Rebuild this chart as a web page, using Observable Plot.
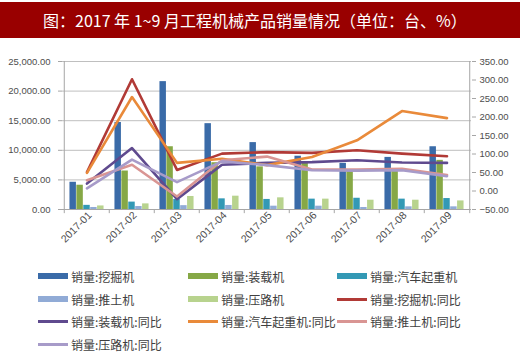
<!DOCTYPE html>
<html><head><meta charset="utf-8">
<script src="https://cdn.jsdelivr.net/npm/d3@7"></script>
<script src="https://cdn.jsdelivr.net/npm/@observablehq/plot@0.6"></script>
<style>
html,body{margin:0;padding:0;background:#fff;}
body{width:520px;height:355px;overflow:hidden;font-family:"Noto Sans CJK SC",sans-serif;}
#title{margin-top:2px;height:36px;background:#990000;color:#fff;font-size:16px;line-height:36px;padding-left:43px;white-space:nowrap;font-family:"Noto Sans CJK SC",sans-serif;}
#chart{height:227px;}
#legend{display:grid;grid-template-columns:150px 149px 150px;grid-auto-rows:22.7px;margin-left:38px;}
.item{display:flex;align-items:center;font-size:12px;color:#404040;white-space:nowrap;}
.sw{width:30px;margin-right:3px;flex:none;}
</style>
</head><body>
<div id="title">图：2017 年 1~9 月工程机械产品销量情况（单位：台、%）</div>
<div id="chart"></div>
<div id="legend"></div>
<script>
const months = ["2017-01","2017-02","2017-03","2017-04","2017-05","2017-06","2017-07","2017-08","2017-09"];
// sales (units), left axis
const excavator  = [4600, 14700, 21600, 14500, 11300, 9000, 7800, 8800, 10600];
const loader     = [4100, 6500, 10600, 7900, 7200, 8000, 6700, 6600, 8300];
const truckCrane = [700, 1250, 1700, 1800, 1700, 1750, 1900, 1750, 1850];
const bulldozer  = [340, 500, 650, 680, 560, 560, 340, 450, 450];
const roller     = [600, 950, 2200, 2250, 1970, 1750, 1570, 1570, 1450];
// YoY (%), right axis
const excavatorYoY  = [51, 302, 57, 101, 105, 103, 110, 101, 94];
const loaderYoY     = [20, 116, -22, 71, 76, 78, 83, 77, 76];
const truckCraneYoY = [49, 254, 76, 87, 70, 92, 137, 216, 197];
const bulldozerYoY  = [29, 71, -15, 83, 93, 58, 58, 60, 43];
const rollerYoY     = [7, 85, 24, 80, 70, 56, 55, 56, 40];
const leftTicks  = [0, 5000, 10000, 15000, 20000, 25000];
const rightTicks = [-50, 0, 50, 100, 150, 200, 250, 300, 350];

const barSeries = [
  {name:"销量:挖掘机", values:excavator, color:"#3a6ba8"},
  {name:"销量:装载机", values:loader, color:"#86a846"},
  {name:"销量:汽车起重机", values:truckCrane, color:"#3399b5"},
  {name:"销量:推土机", values:bulldozer, color:"#91abd6"},
  {name:"销量:压路机", values:roller, color:"#b8d38e"}
];
const lineSeries = [
  {name:"销量:挖掘机:同比", values:excavatorYoY, color:"#b13a36"},
  {name:"销量:装载机:同比", values:loaderYoY, color:"#5f4a8e"},
  {name:"销量:汽车起重机:同比", values:truckCraneYoY, color:"#e98a3a"},
  {name:"销量:推土机:同比", values:bulldozerYoY, color:"#d99593"},
  {name:"销量:压路机:同比", values:rollerYoY, color:"#a79bc9"}
];

const W = 520, H = 227, mL = 62, mR = 49, mT = 23, mB = 56;
const bw = (W - mL - mR) / months.length;
const groupW = bw * 0.76, barW = groupW / barSeries.length, pad = (bw - groupW) / 2;
const leftMax = 25000, rMin = -50, rMax = 350;
const toLeft = v => (v - rMin) / (rMax - rMin) * leftMax;
const fromLeft = d => d / leftMax * (rMax - rMin) + rMin;
const fmt = d3.format(",.2f");
const axisColor = "#a6a6a6";
const textColor = "#4d4d4d";
const font = "Liberation Sans, Arial, sans-serif";

const marks = [
  Plot.gridY(leftTicks, {stroke:"#bfbfbf", strokeOpacity:1}),
  Plot.ruleX([months[0]], {x:d=>d, dx:-bw/2, stroke:axisColor}),
  Plot.ruleX([months[months.length-1]], {x:d=>d, dx:bw/2, stroke:axisColor}),
  Plot.ruleX(months, {x:d=>d, dx:-bw/2, y1:0, y2:-700, stroke:axisColor}),
  Plot.ruleX([months[months.length-1]], {x:d=>d, dx:bw/2, y1:0, y2:-700, stroke:axisColor}),
];
barSeries.forEach((s, k) => {
  const data = months.map((m, i) => ({month:m, value:s.values[i]}));
  marks.push(Plot.barY(data, {x:"month", y:"value", fill:s.color,
    insetLeft: pad + k*barW, insetRight: pad + (barSeries.length-1-k)*barW}));
});
lineSeries.forEach(s => {
  const data = months.map((m, i) => ({month:m, value:s.values[i]}));
  marks.push(Plot.line(data, {x:"month", y:d=>toLeft(d.value), stroke:s.color, strokeWidth:2.6, curve:"linear"}));
});
marks.push(
  Plot.axisY({anchor:"left", ticks:leftTicks, tickFormat:fmt, tickSize:4, tickPadding:8, stroke:axisColor, fill:textColor}),
  Plot.axisY({anchor:"right", ticks:rightTicks.map(toLeft), tickFormat:d=>fmt(fromLeft(d)), tickSize:4, tickPadding:4, stroke:axisColor, fill:textColor}),
  Plot.axisX({tickRotate:-45, tickSize:0, tickPadding:4, dx:3, fill:textColor, fontSize:10.5}),
  Plot.ruleY([0], {stroke:axisColor})
);

const chart = Plot.plot({
  width: W, height: H, marginLeft: mL, marginRight: mR, marginTop: mT, marginBottom: mB,
  style: {fontSize:"9.5px", fontFamily:font, background:"#fff"},
  x: {type:"band", domain:months, padding:0, label:null},
  y: {domain:[0, leftMax], label:null},
  marks
});
document.getElementById("chart").appendChild(chart);

const legend = document.getElementById("legend");
[...barSeries.map(s=>({...s, bar:true})), ...lineSeries.map(s=>({...s, bar:false}))].forEach(s => {
  const item = document.createElement("div");
  item.className = "item";
  const sw = document.createElement("span");
  sw.className = "sw";
  sw.style.height = s.bar ? "6px" : "3px";
  sw.style.background = s.color;
  item.appendChild(sw);
  item.appendChild(document.createTextNode(s.name));
  legend.appendChild(item);
});
</script>
</body></html>
